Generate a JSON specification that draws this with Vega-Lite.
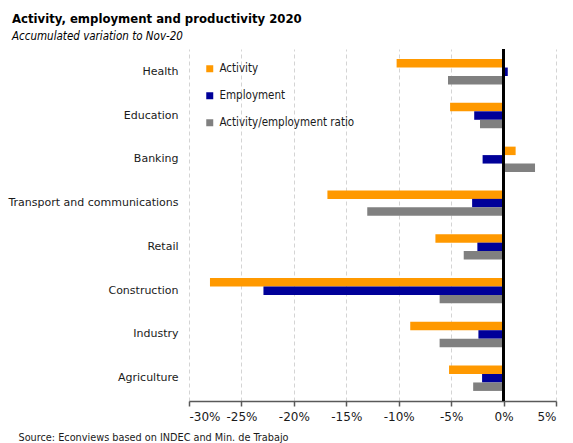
{
  "$schema": "https://vega.github.io/schema/vega-lite/v6.json",
  "autosize": {"type": "none"},
  "width": 367,
  "height": 352,
  "padding": {"left": 189, "top": 49, "right": 17, "bottom": 42},
  "background": "white",
  "title": {
    "text": "Activity, employment  and productivity 2020",
    "subtitle": "Accumulated variation to Nov-20",
    "anchor": "start",
    "frame": "group",
    "dx": -177,
    "offset": 6,
    "font": "DejaVu Sans Condensed",
    "fontSize": 13,
    "fontWeight": "bold",
    "color": "#000000",
    "subtitleFont": "DejaVu Sans Condensed",
    "subtitleFontSize": 11.5,
    "subtitleFontStyle": "italic",
    "subtitleColor": "#000000",
    "subtitlePadding": 5
  },
  "data": {
    "values": [
      {"sector": "Health", "series": "Activity", "value": -10.2},
      {"sector": "Health", "series": "Employment", "value": 0.4},
      {"sector": "Health", "series": "Activity/employment ratio", "value": -5.3},
      {"sector": "Education", "series": "Activity", "value": -5.1},
      {"sector": "Education", "series": "Employment", "value": -2.8},
      {"sector": "Education", "series": "Activity/employment ratio", "value": -2.25},
      {"sector": "Banking", "series": "Activity", "value": 1.15},
      {"sector": "Banking", "series": "Employment", "value": -2.0},
      {"sector": "Banking", "series": "Activity/employment ratio", "value": 3.0},
      {"sector": "Transport and communications", "series": "Activity", "value": -16.8},
      {"sector": "Transport and communications", "series": "Employment", "value": -3.0},
      {"sector": "Transport and communications", "series": "Activity/employment ratio", "value": -13.0},
      {"sector": "Retail", "series": "Activity", "value": -6.5},
      {"sector": "Retail", "series": "Employment", "value": -2.5},
      {"sector": "Retail", "series": "Activity/employment ratio", "value": -3.8},
      {"sector": "Construction", "series": "Activity", "value": -28.0},
      {"sector": "Construction", "series": "Employment", "value": -22.9},
      {"sector": "Construction", "series": "Activity/employment ratio", "value": -6.1},
      {"sector": "Industry", "series": "Activity", "value": -8.9},
      {"sector": "Industry", "series": "Employment", "value": -2.4},
      {"sector": "Industry", "series": "Activity/employment ratio", "value": -6.1},
      {"sector": "Agriculture", "series": "Activity", "value": -5.2},
      {"sector": "Agriculture", "series": "Employment", "value": -2.05},
      {"sector": "Agriculture", "series": "Activity/employment ratio", "value": -2.9}
    ]
  },
  "config": {
    "view": {"stroke": null},
    "font": "DejaVu Sans"
  },
  "layer": [
    {
      "mark": {"type": "bar"},
      "encoding": {
        "y": {
          "field": "sector",
          "type": "nominal",
          "sort": ["Health", "Education", "Banking", "Transport and communications", "Retail", "Construction", "Industry", "Agriculture"],
          "scale": {"paddingInner": 0.42, "paddingOuter": 0.23},
          "axis": {
            "title": null,
            "domain": false,
            "ticks": false,
            "grid": false,
            "labelPadding": 11,
            "labelFontSize": 11,
            "labelColor": "#1a1a1a",
            "labelFont": "DejaVu Sans"
          }
        },
        "yOffset": {
          "field": "series",
          "type": "nominal",
          "sort": ["Activity", "Employment", "Activity/employment ratio"],
          "scale": {"paddingInner": 0, "paddingOuter": 0}
        },
        "x": {
          "field": "value",
          "type": "quantitative",
          "scale": {"domain": [-30, 5], "nice": false, "zero": false},
          "axis": {
            "values": [-30, -25, -20, -15, -10, -5, 0, 5],
            "labelExpr": "datum.value + '%'",
            "labelFontSize": 12,
            "labelColor": "#1a1a1a",
            "labelPadding": 5,
            "labelFont": "DejaVu Sans",
            "domainColor": "#595959",
            "domainWidth": 1.5,
            "tickColor": "#595959",
            "tickWidth": 1.5,
            "tickSize": 5,
            "grid": true,
            "gridColor": "#d4d4d4",
            "gridDash": [4, 3],
            "gridWidth": 1,
            "title": "Source: Econviews based on INDEC and Min. de Trabajo",
            "titleAnchor": "start",
            "titleAlign": "left",
            "titleBaseline": "middle",
            "titleX": -171,
            "titleY": 36,
            "titleFontSize": 10.8,
            "titleFontWeight": "normal",
            "titleColor": "#1a1a1a",
            "titleFont": "DejaVu Sans Condensed"
          }
        },
        "color": {
          "field": "series",
          "type": "nominal",
          "sort": ["Activity", "Employment", "Activity/employment ratio"],
          "scale": {
            "domain": ["Activity", "Employment", "Activity/employment ratio"],
            "range": ["#FF9900", "#000099", "#808080"]
          },
          "legend": {
            "title": null,
            "orient": "none",
            "legendX": 15,
            "legendY": 14,
            "symbolType": "square",
            "symbolSize": 49,
            "symbolStrokeWidth": 0,
            "labelFontSize": 11.5,
            "labelColor": "#1a1a1a",
            "labelFont": "DejaVu Sans Condensed",
            "labelOffset": 4,
            "rowPadding": 14
          }
        }
      }
    },
    {
      "mark": {"type": "rule", "color": "#000000", "strokeWidth": 1.5},
      "encoding": {"x": {"datum": 0}}
    }
  ]
}
